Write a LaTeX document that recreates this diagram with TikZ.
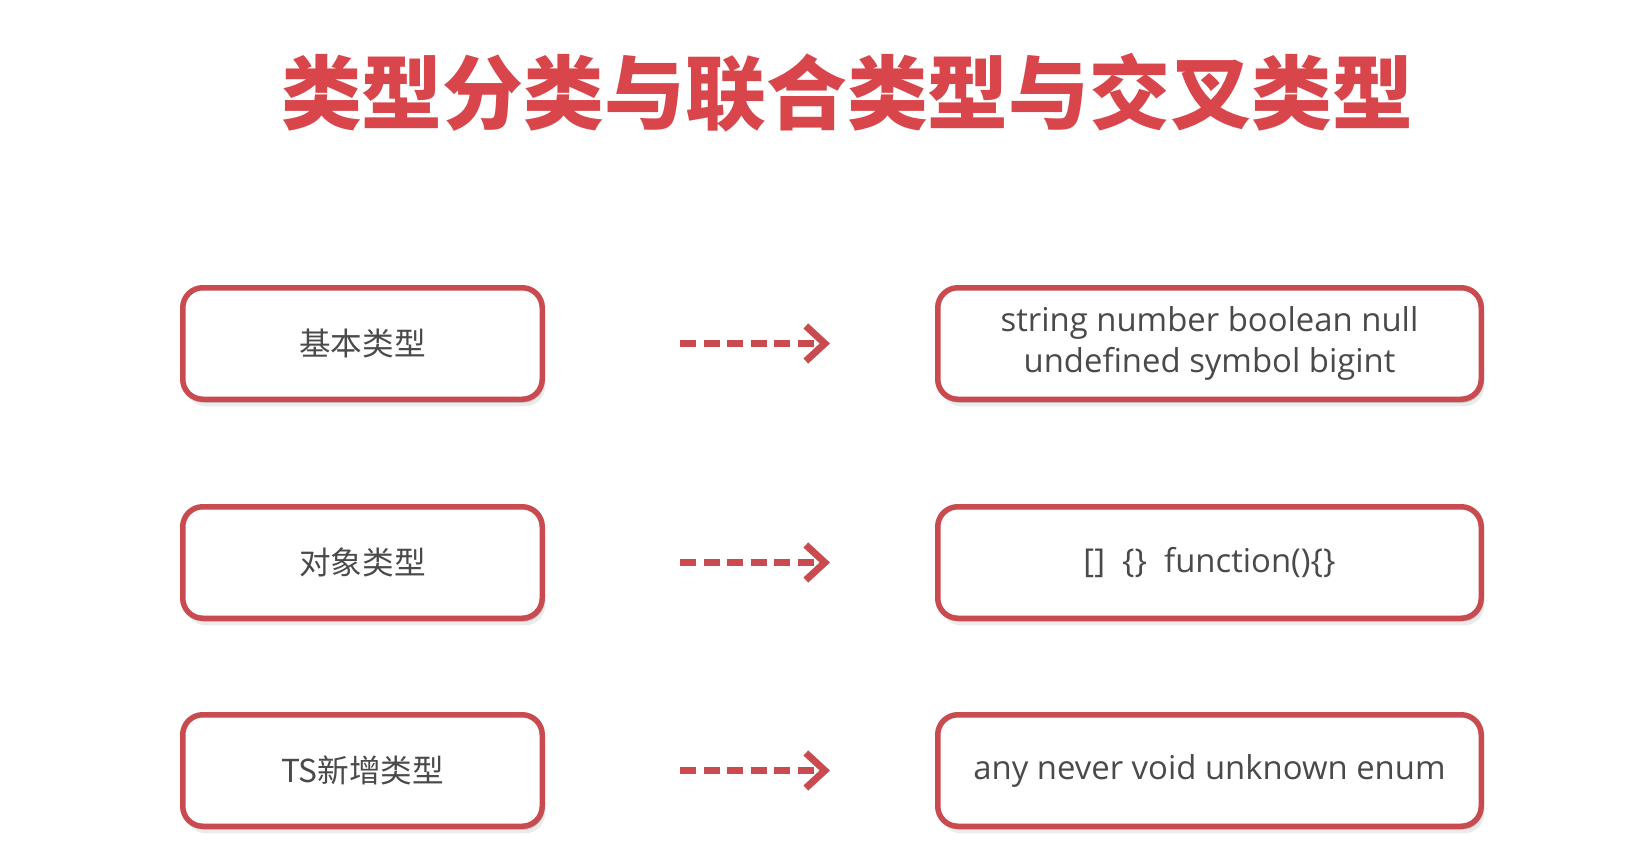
\documentclass[tikz,border=0pt]{standalone}
\usepackage{fontspec}
\setmainfont{Open Sans}
\newfontfamily\cjk{Noto Sans CJK SC}
\usetikzlibrary{positioning}
\usetikzlibrary{shadows}
\usetikzlibrary{arrows.meta}
\definecolor{boxred}{HTML}{C94A4F}
\definecolor{titlered}{HTML}{D8454A}
\definecolor{textgray}{HTML}{4A4A4A}

\begin{document}
\begin{tikzpicture}
    % Styles
    \tikzset{
        typebox/.style={draw=boxred, line width=0.11cm, rounded corners=0.4cm, fill=white,
            minimum height=2.23cm, text=textgray, align=center,
            drop shadow={shadow xshift=0.06cm, shadow yshift=-0.14cm, opacity=0.08, fill=black},
            drop shadow={shadow xshift=0.03cm, shadow yshift=-0.07cm, opacity=0.15, fill=black}},
        kindbox/.style={typebox, minimum width=7.19cm, font=\cjk\fontsize{18}{22}\selectfont},
        listbox/.style={typebox, minimum width=10.87cm, font=\fontsize{18.7}{23}\selectfont},
        typearrow/.style={draw=boxred, line width=0.14cm, dash pattern=on 0.32cm off 0.15cm,
            -{Straight Barb[length=0.38cm, width=0.7cm]}, shorten <=2.7cm, shorten >=2.1cm}
    }
    \useasboundingbox (0,0) rectangle (32.52,-17.26);

    % Title
    \node[font=\cjk\bfseries\fontsize{46}{54}\selectfont, text=titlered] (title) at (16.94,-1.86)
        {类型分类与联合类型与交叉类型};

    % Kinds of types
    \node[kindbox] (basic) at (7.25,-6.87) {基本类型};
    \node[kindbox] (object) at (7.25,-11.25) {对象类型};
    \node[kindbox] (tsnew) at (7.25,-15.41) {TS新增类型};

    % Members
    \node[listbox, right = 7.8cm of basic] (basicList) {string number boolean null\\undefined symbol bigint};
    \node[listbox, right = 7.8cm of object] (objectList) {[]\ \ \{\}\ \ function()\{\}};
    \node[listbox, right = 7.8cm of tsnew] (tsnewList) {any never void unknown enum};

    % Arrows
    \draw[typearrow] (basic) -- (basicList);
    \draw[typearrow] (object) -- (objectList);
    \draw[typearrow] (tsnew) -- (tsnewList);
\end{tikzpicture}
\end{document}
